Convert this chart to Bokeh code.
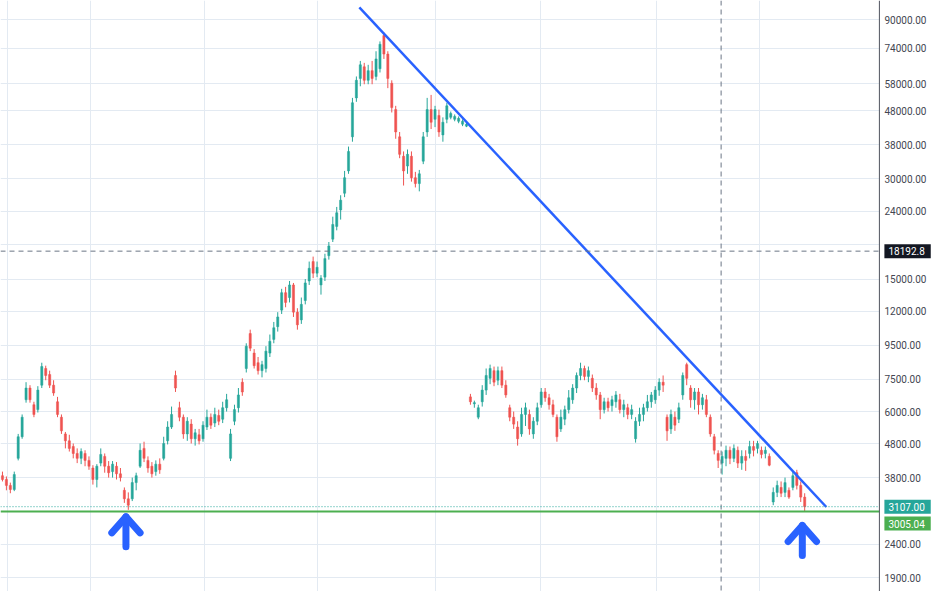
import numpy as np
from bokeh.plotting import figure
from bokeh.models import Range1d, FixedTicker, Span, Label, BoxAnnotation
from bokeh.core.properties import value
from bokeh.embed import file_html
from bokeh.resources import INLINE

# ---------------- data (prices) ----------------
open_price = [
    3850, 3750, 3600, 3500, 4340, 5040, 6510, 7060, 6290, 6080,
    7200, 8080, 7750, 7200, 6420, 5770, 5140, 4900, 4710, 4490,
    4340, 4490, 4280, 4060, 3750, 4200, 4400, 4110, 3960, 4110,
    3900, 3480, 3280, 3280, 3670, 4110, 4650, 4280, 4110, 3960,
    4170, 4340, 4900, 5390, 7700, 6160, 5770, 5140, 5500, 4970,
    5110, 4970, 5390, 5770, 5540, 5840, 5690, 6160, 4340, 5610,
    6160, 7350, 8080, 10290, 8990, 8410, 7960, 8080, 8990, 9880,
    10790, 12100, 13650, 13200, 14400, 11930, 11310, 12930, 14800, 16930,
    15620, 14400, 15200, 17630, 19770, 21590, 24200, 27150, 31690, 40110,
    52510, 60080, 65100, 59300, 63400, 60900, 64270, 80800, 71100, 58090,
    48430, 40110, 35060, 32770, 35060, 30230, 29030, 33890, 41480, 48430,
    45280, 46510, 40650, 45280, 45890, 45280, 44670, 43780, 43190,
    6640, 6330, 5770, 6420, 6960, 7550, 7960, 7450, 7960, 7200,
    6160, 5770, 5390, 5140, 5880, 5880, 5140, 5610, 6290, 6870,
    6600, 6290, 5770, 5320, 5690, 6080, 6510, 7060, 7700, 8080,
    7650, 7550, 7060, 6730, 6080, 6420, 6250, 6420, 6510, 6080,
    6160, 5880, 4970, 5610, 5880, 6160, 6420, 6510, 6960, 7350,
    5770, 5320, 5770, 5690, 6730, 8300, 7060, 6510, 6870, 6290,
    6510, 5770, 5040, 4490, 4200, 4340, 4590, 4340, 4590, 4200,
    4400, 4490, 4710, 4650, 4590, 4490, 4400, 3210, 3430, 3550,
    3430, 3480, 3550, 3930, 3600, 3320,
]
close_price = [
    3750, 3600, 3500, 3880, 5040, 5770, 7060, 6510, 5880, 6960,
    8190, 7700, 7200, 6820, 5880, 5250, 4900, 4650, 4490, 4340,
    4550, 4280, 4110, 3750, 4110, 4460, 4110, 3930, 4170, 3900,
    3800, 3280, 3140, 3670, 3850, 4590, 4340, 4060, 3900, 4170,
    4010, 4810, 5390, 5880, 7060, 5770, 5140, 5610, 4970, 5180,
    4900, 5460, 5770, 5460, 5880, 5610, 6160, 6510, 5140, 6080,
    6730, 6870, 9430, 9300, 8240, 7960, 8300, 9110, 9750, 10710,
    11540, 13650, 12760, 14400, 11930, 10930, 12590, 14600, 16160, 15620,
    16270, 15100, 17280, 18860, 21880, 23720, 25890, 30230, 36260, 50770,
    59300, 66000, 59300, 63400, 60080, 68740, 76050, 71100, 60080, 49090,
    41480, 35530, 31690, 35530, 30230, 29030, 31060, 40110, 48430, 44370,
    48430, 41480, 44370, 49700, 47150, 46200, 45580, 44670, 43780,
    6420, 6380, 6160, 6960, 7700, 8080, 7350, 7960, 7200, 6730,
    5770, 5500, 4970, 5880, 6160, 5320, 5610, 6160, 6870, 6600,
    6290, 5880, 5040, 5770, 6080, 6600, 7060, 7700, 8080, 7650,
    7960, 7060, 6730, 6080, 6420, 6160, 6510, 6730, 6080, 6290,
    5880, 6080, 5610, 5880, 6160, 6420, 6730, 6960, 7350, 7200,
    5250, 5880, 5460, 6160, 7700, 7550, 6510, 6870, 6290, 6600,
    5880, 5140, 4590, 4280, 4400, 4590, 4340, 4650, 4200, 4400,
    4280, 4710, 4590, 4810, 4460, 4590, 4140, 3430, 3600, 3410,
    3670, 3320, 3850, 3600, 3320, 3107.00,
]
high_price = [
    3960, 3830, 3670, 3960, 5140, 5880, 7350, 7200, 6420, 7150,
    8410, 8240, 7960, 7450, 6640, 5880, 5210, 5110, 4810, 4650,
    4650, 4590, 4400, 4140, 4170, 4650, 4490, 4260, 4260, 4230,
    4060, 3550, 3430, 3800, 3930, 4810, 4870, 4400, 4230, 4280,
    4340, 5040, 5610, 6210, 7960, 6420, 5880, 5770, 5690, 5320,
    5320, 5610, 6080, 5920, 6160, 6080, 6420, 6780, 5320, 6290,
    7060, 7550, 9620, 10570, 9240, 8750, 8520, 9430, 10220, 11150,
    11930, 14020, 14210, 14800, 14600, 12260, 13200, 15000, 16930, 17520,
    16930, 15410, 17870, 19380, 23090, 24700, 26780, 31690, 37500, 52510,
    60900, 67800, 66900, 66000, 67800, 72500, 77600, 82500, 72500, 59300,
    49700, 41480, 36260, 36750, 36260, 31480, 31900, 41480, 52510, 53600,
    49700, 48430, 45890, 50770, 47790, 46830, 46200, 45280, 44370,
    6780, 6470, 6290, 7200, 8080, 8300, 8190, 8190, 8190, 7450,
    6290, 6000, 5610, 6160, 6380, 6080, 5770, 6380, 7060, 7060,
    6780, 6510, 5880, 6080, 6250, 6960, 7250, 7860, 8410, 8240,
    8190, 7750, 7300, 6870, 6600, 6600, 6690, 6910, 6780, 6510,
    6330, 6290, 5770, 6160, 6330, 6730, 6870, 7150, 7550, 7700,
    5880, 6080, 6000, 6380, 7860, 8410, 7200, 7060, 7060, 6780,
    6730, 5880, 5140, 4590, 4550, 4740, 4710, 4780, 4710, 4590,
    4590, 4900, 4900, 4900, 4710, 4710, 4490, 3550, 3720, 3700,
    3800, 3550, 3980, 4010, 3700, 3410,
]
low_price = [
    3700, 3480, 3410, 3460, 4280, 4970, 6380, 6380, 5770, 5960,
    7060, 7450, 7060, 6690, 5770, 5140, 4650, 4550, 4340, 4200,
    4170, 4110, 4010, 3620, 3550, 4110, 3930, 3800, 3800, 3750,
    3700, 3190, 3040, 3230, 3480, 4060, 4230, 3930, 3800, 3850,
    3900, 4280, 4780, 5320, 6870, 5610, 4970, 4900, 4810, 4740,
    4780, 4870, 5280, 5320, 5390, 5460, 5540, 6000, 4260, 5460,
    5960, 6690, 7860, 9110, 8080, 7750, 7600, 7860, 8750, 9620,
    10430, 11780, 12340, 12760, 11540, 10570, 11000, 12590, 14400, 15100,
    15200, 13470, 14800, 17160, 19380, 21010, 22630, 26430, 31060, 38780,
    51100, 56900, 57700, 57700, 57700, 59300, 62600, 68740, 56170, 47470,
    39580, 34600, 28640, 31060, 29420, 28260, 27510, 33210, 40110, 42330,
    42900, 40110, 38780, 44070, 45280, 44670, 44070, 43190, 42900,
    6290, 6160, 5690, 6210, 6730, 7250, 7150, 7200, 7060, 6600,
    5610, 5320, 4740, 5040, 5430, 5110, 4970, 5460, 6160, 6420,
    6080, 5770, 4870, 5210, 5460, 5920, 6330, 6820, 7450, 7450,
    7350, 6870, 6510, 5690, 5920, 6000, 6000, 6160, 5920, 5770,
    5690, 5690, 4840, 5430, 5610, 6000, 6160, 6330, 6690, 6870,
    4900, 5140, 5250, 5540, 6510, 7200, 6160, 6080, 5880, 6080,
    5770, 5040, 4460, 4060, 3880, 4110, 4170, 4230, 4060, 4010,
    3980, 4340, 4400, 4490, 4340, 4340, 4110, 3140, 3320, 3320,
    3320, 3280, 3480, 3500, 3210, 3005.04,
]

first_segment_len = 119                      # bars before the price break
axis_levels = [1900, 2400, 3800, 4800, 6000, 7500, 9500, 12000, 15000,
               24000, 30000, 38000, 48000, 58000, 74000, 90000]
grid_levels = axis_levels + [3000, 19000]
time_grid = [1.25, 22.5, 51.5, 80, 110, 136.75, 166.25, 192.5]
crosshair_bar = 182.75
crosshair_price = 18192.8
last_price = 3107.00
support_price = 3005.04
trend_bars = [90.75, 209.5]
trend_prices = [98240, 3100]

# ---------------- styling / layout ----------------
UP, DOWN = "#26a69a", "#ef5350"
BLUE = "#2962ff"
W, H = 931, 591
X0, X1 = -0.5, 236.25            # visible bar range
SCALE_X = 223.0                  # where the price scale starts
Y_TOP, Y_BOTTOM = 102980, 1728.3
FONT = "Roboto"
FONT_SIZE = "10px"
TEXT_COLOR = "#434651"

o = np.array(open_price, float)
h = np.array(high_price, float)
l = np.array(low_price, float)
c = np.array(close_price, float)
n = len(c)
idx = np.arange(n)
colors = np.where(c >= o, UP, DOWN).tolist()

p = figure(width=W, height=H,
           x_range=Range1d(X0, X1), y_range=Range1d(Y_BOTTOM, Y_TOP),
           y_axis_type="log", x_axis_location=None, y_axis_location=None,
           output_backend="svg", toolbar_location=None,
           min_border=0, min_border_left=0, min_border_right=0,
           min_border_top=0, min_border_bottom=0,
           background_fill_color="white", border_fill_color="white")
p.outline_line_color = None

# grids
p.xgrid.ticker = FixedTicker(ticks=time_grid)
p.ygrid.ticker = FixedTicker(ticks=grid_levels)
for g in (p.xgrid, p.ygrid):
    g.grid_line_color = "#e3eaf2"
    g.grid_line_width = 1

# candles
p.segment(x0=idx, y0=l, x1=idx, y1=h, line_color=colors, line_width=1)
p.vbar(x=idx, width=0.55, top=np.maximum(o, c), bottom=np.minimum(o, c),
       fill_color=colors, line_color=colors, line_width=0.5)

# crosshair
p.add_layout(Span(location=crosshair_price, dimension="width",
                  line_color="#6a7585", line_dash="5 4", line_width=1))
p.add_layout(Span(location=crosshair_bar, dimension="height",
                  line_color="#6a7585", line_dash="5 4", line_width=1))

# last price (dotted) and support (solid green)
p.add_layout(Span(location=last_price, dimension="width",
                  line_color=UP, line_dash="1 2", line_width=1))
p.add_layout(Span(location=support_price, dimension="width",
                  line_color="#4caf50", line_width=2))

# trend line
p.line(x=trend_bars, y=trend_prices, line_color=BLUE, line_width=2.5)

# arrows under the two lows
ppl = H / np.log(Y_TOP / Y_BOTTOM)        # pixels per log-unit
low_bars = [int(np.argmin(l[:first_segment_len])), n - 1]
gaps_px = [7, 14]
xs, ys = [], []
for b, gap in zip(low_bars, gaps_px):
    tip = l[b] * np.exp(-gap / ppl)
    arm = tip * np.exp(-16 / ppl)
    tail = tip * np.exp(-30 / ppl)
    bx = b - 0.6
    xs += [[bx, bx], [bx - 3.6, bx, bx + 3.6]]
    ys += [[tip, tail], [arm, tip, arm]]
p.multi_line(xs=xs, ys=ys, line_color=BLUE, line_width=7,
             line_cap="round", line_join="round")

# ---------------- price scale on the right ----------------
p.add_layout(BoxAnnotation(left=SCALE_X, fill_color="white", fill_alpha=1.0,
                           line_color=None, level="annotation"))
p.add_layout(Span(location=SCALE_X, dimension="height",
                  line_color="#50535e", line_width=1))
p.text(x=[SCALE_X] * len(axis_levels), y=axis_levels,
       text=[f"{v:.2f}" for v in axis_levels],
       x_offset=5, text_baseline="middle", text_align="left",
       text_font=value(FONT), text_font_size=FONT_SIZE, text_color=TEXT_COLOR,
       level="overlay")

def axis_tag(price, text, bg, dy=0):
    p.add_layout(Label(x=SCALE_X, y=price, text=text, x_offset=5, y_offset=dy,
                       text_font=FONT, text_font_size=FONT_SIZE, text_color="white",
                       text_baseline="middle", text_align="left",
                       background_fill_color=bg, level="overlay",
                       padding=dict(left=4, right=6, top=3, bottom=3)))

axis_tag(crosshair_price, "18192.8", "#131722")
axis_tag(last_price, f"{last_price:.2f}", UP)
axis_tag(support_price, f"{support_price:.2f}", "#4caf50", dy=-12)

open("out.html", "w").write(file_html(p, INLINE))
